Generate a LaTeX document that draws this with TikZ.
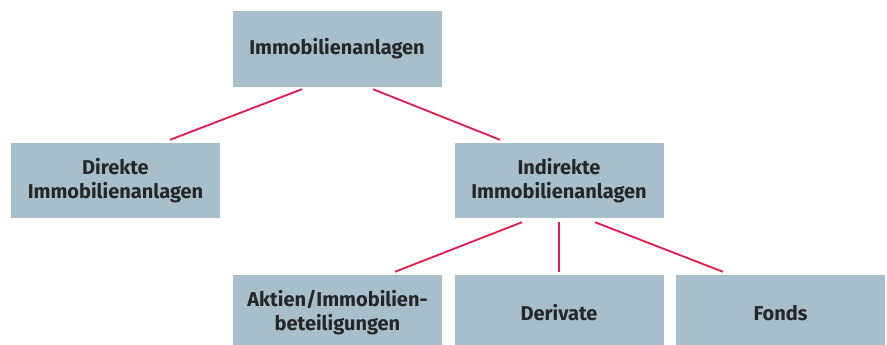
\documentclass[tikz,border=0pt]{standalone}
\usepackage{fontspec}
\setmainfont{Fira Sans}
\usepackage{xcolor}
\usepackage{tikz}
\usetikzlibrary{positioning,calc}

\definecolor{boxblue}{HTML}{A7BFCB}
\definecolor{linkred}{HTML}{E5194B}

\tikzset{
    box/.style={rectangle, fill=boxblue, minimum width=209pt, minimum height=76pt,
        inner sep=0pt, align=center, font=\fontsize{20}{24}\selectfont\bfseries, text=black!85},
    link/.style={draw=linkred, line width=1.8pt}
}

\begin{document}
\begin{tikzpicture}[x=1pt,y=-1pt]
    \useasboundingbox (0,0) rectangle (887,345);
    \node[box] (immo) at (337,49) {Immobilienanlagen};
    \node[box, minimum height=75pt] (direkt) at (115.5,180.5) {Direkte\\Immobilienanlagen};
    \node[box, minimum height=75pt] (indirekt) at (559,180.5) {Indirekte\\Immobilienanlagen};
    % bottom row runs off the page edge
    \node[box] (aktien) at (337.5,313) {Aktien/Immobilien-\\beteiligungen};
    \node[box] (derivate) at (559,313) {Derivate};
    \node[box] (fonds) at (780.5,313) {Fonds};

    \draw[link] ($(immo.south)+(-35,2)$) -- ($(direkt.north)+(54.5,-3)$);
    \draw[link] ($(immo.south)+(36,2)$) -- ($(indirekt.north)+(-59,-3)$);
    \draw[link] ($(indirekt.south)+(-37,4)$) -- ($(aktien.north)+(57.5,-3)$);
    \draw[link] ($(indirekt.south)+(0,4)$) -- ($(derivate.north)+(0,-3)$);
    \draw[link] ($(indirekt.south)+(36,4)$) -- ($(fonds.north)+(-57.5,-3)$);
\end{tikzpicture}
\end{document}
